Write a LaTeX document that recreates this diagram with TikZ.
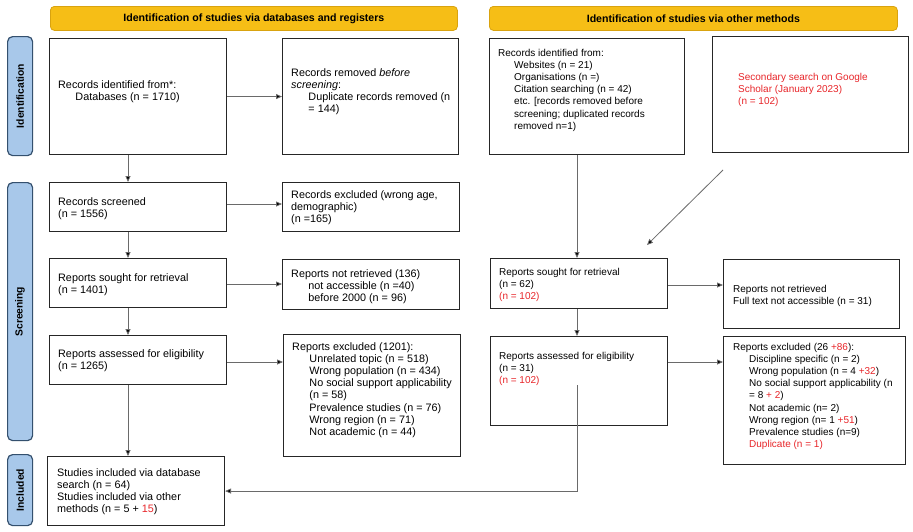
\documentclass[tikz,border=0pt]{standalone}
\usepackage{fontspec}
\setmainfont{Liberation Sans}
\usetikzlibrary{arrows.meta}
\definecolor{bannerfill}{HTML}{F6BE16}
\definecolor{bannerdraw}{HTML}{D9A30F}
\definecolor{barfill}{HTML}{A8C8EA}
\definecolor{bardraw}{HTML}{34506E}
\definecolor{redtxt}{HTML}{E8262A}
\definecolor{linegray}{HTML}{6A6A6A}
\tikzset{
  box/.style={draw=black!85, line width=1.1pt, anchor=north west, inner sep=0pt},
  banner/.style={draw=bannerdraw, fill=bannerfill, rounded corners=4pt, line width=0.8pt, anchor=north west, inner sep=0pt},
  bar/.style={draw=bardraw, fill=barfill, rounded corners=5pt, line width=1.2pt, anchor=north west, inner sep=0pt},
  barlabel/.style={rotate=90, font=\fontsize{10.3}{12}\selectfont\bfseries},
  ltxt/.style={anchor=base west, align=left, inner sep=0pt, font=\fontsize{10.8}{12.2}\selectfont},
  rtxt/.style={anchor=base west, align=left, inner sep=0pt, font=\fontsize{10}{12.2}\selectfont},
  arr/.style={draw=linegray, line width=0.8pt, -{Triangle[length=6pt,width=5pt,fill=black]}},
}
\newcommand{\rd}[1]{\textcolor{redtxt}{#1}}
\newcommand{\ind}{\hspace*{1.6em}}
\begin{document}
\begin{tikzpicture}[x=1pt,y=-1pt]
\useasboundingbox (0,0) rectangle (913,531);
\fill[white] (0,0) rectangle (913,531);

% banners
\node[banner, minimum width=407pt, minimum height=24pt] (b1) at (50,6) {};
\node (b1t) at (b1.center) {\fontsize{10.6}{12}\selectfont\bfseries Identification of studies via databases and registers};
\node[banner, minimum width=408pt, minimum height=24pt] (b2) at (489,6) {};
\node (b2t) at (b2.center) {\fontsize{10.6}{12}\selectfont\bfseries Identification of studies via other methods};

% side bars
\node[bar, minimum width=25pt, minimum height=119pt] (s1) at (7,36) {};
\node[barlabel] (s1t) at (s1.center) {Identification};
\node[bar, minimum width=25pt, minimum height=258pt] (s2) at (7,182) {};
\node[barlabel] (s2t) at (s2.center) {Screening};
\node[bar, minimum width=25pt, minimum height=71pt] (s3) at (7,454) {};
\node[barlabel] (s3t) at (s3.center) {Included};

% left column boxes (text anchored at baseline of last line)
\node[box, minimum width=177pt, minimum height=116pt] (id1) at (49,38) {};
\node[ltxt] (id1t) at (58,100.7) {Records identified from*:\\\ind Databases (n = 1710)};
\node[box, minimum width=176pt, minimum height=116pt] (rem) at (282,38) {};
\node[ltxt] (remt) at (291,112.6) {Records removed \emph{before}\\\emph{screening}:\\\ind Duplicate records removed (n\\\ind = 144)};

\node[box, minimum width=177pt, minimum height=49pt] (scr) at (49,182) {};
\node[ltxt] (scrt) at (58,217.2) {Records screened\\(n = 1556)};
\node[box, minimum width=177pt, minimum height=49pt] (exc) at (282,182) {};
\node[ltxt] (exct) at (291,222.4) {Records excluded (wrong age,\\demographic)\\(n =165)};

\node[box, minimum width=177pt, minimum height=49pt] (sgt) at (49,258) {};
\node[ltxt] (sgtt) at (58,293.2) {Reports sought for retrieval\\(n = 1401)};
\node[box, minimum width=177pt, minimum height=50pt] (nrt) at (282,259) {};
\node[ltxt] (nrtt) at (291,301.4) {Reports not retrieved (136)\\\ind not accessible (n =40)\\\ind before 2000 (n = 96)};

\node[box, minimum width=177pt, minimum height=49pt] (asd) at (49,335) {};
\node[ltxt] (asdt) at (58,369.2) {Reports assessed for eligibility\\(n = 1265)};
\node[box, minimum width=177pt, minimum height=122pt] (rex) at (283,334) {};
\node[ltxt] (rext) at (292,435.4) {Reports excluded (1201):\\\ind Unrelated topic (n = 518)\\\ind Wrong population (n = 434)\\\ind No social support applicability\\\ind (n = 58)\\\ind Prevalence studies (n = 76)\\\ind Wrong region (n = 71)\\\ind Not academic (n = 44)};

\node[box, minimum width=177pt, minimum height=69pt] (inc) at (47,456) {};
\node[ltxt] (inct) at (57,512.6) {Studies included via database\\search (n = 64)\\Studies included via other\\methods (n = 5 + \rd{15})};

% right column boxes
\node[box, minimum width=195pt, minimum height=116pt] (ido) at (489,38) {};
\node[rtxt] (idot) at (498,129.2) {Records identified from:\\\ind Websites (n = 21)\\\ind Organisations (n =)\\\ind Citation searching (n = 42)\\\ind etc. [records removed before\\\ind screening; duplicated records\\\ind removed n=1)};
\node[box, minimum width=196pt, minimum height=116pt] (sec) at (712,36) {};
\node[rtxt] (sect) at (738,104.4) {\rd{Secondary search on Google}\\\rd{Scholar (January 2023)}\\\rd{(n = 102)}};

\node[box, minimum width=177pt, minimum height=50pt] (sgo) at (490,258) {};
\node[rtxt] (sgot) at (499,299.4) {Reports sought for retrieval\\(n = 62)\\\rd{(n = 102)}};
\node[box, minimum width=176pt, minimum height=69pt] (nro) at (723,259) {};
\node[rtxt] (nrot) at (733,304.2) {Reports not retrieved\\Full text not accessible (n = 31)};

\node[box, minimum width=177pt, minimum height=89pt] (aso) at (490,336) {};
\node[rtxt] (asot) at (499,383.4) {Reports assessed for eligibility\\(n = 31)\\\rd{(n = 102)}};
\node[box, minimum width=182pt, minimum height=128pt] (exo) at (723,336) {};
\node[rtxt] (exot) at (733,447.6) {Reports excluded (26 \rd{+86}):\\\ind Discipline specific (n = 2)\\\ind Wrong population (n = 4 \rd{+32})\\\ind No social support applicability (n\\\ind = 8 \rd{+ 2})\\\ind Not academic (n= 2)\\\ind Wrong region (n= 1 \rd{+51})\\\ind Prevalence studies (n=9)\\\ind \rd{Duplicate (n = 1)}};

% helper coordinates
\coordinate (lx) at (128,0);
\coordinate (rx) at (577,0);
\coordinate (ya) at (0,362);
\coordinate (yb) at (0,285);
\coordinate (yc) at (0,284);
\coordinate (yd) at (0,204);
\coordinate (dgs) at (723,170);
\coordinate (dge) at (647,245);
\coordinate (ls) at (577,385);

% left connectors
\draw[arr] (id1.east) -- (rem.west |- id1.east);
\draw[arr] (id1.south -| lx) -- (scr.north -| lx);
\draw[arr] (scr.east |- yd) -- (exc.west |- yd);
\draw[arr] (scr.south -| lx) -- (sgt.north -| lx);
\draw[arr] (sgt.east |- yc) -- (nrt.west |- yc);
\draw[arr] (sgt.south -| lx) -- (asd.north -| lx);
\draw[arr] (asd.east |- ya) -- (rex.west |- ya);
\draw[arr] (asd.south -| lx) -- (inc.north -| lx);

% right connectors
\draw[arr] (ido.south -| rx) -- (sgo.north -| rx);
\draw[arr] (dgs) -- (dge);
\draw[arr] (sgo.east |- yb) -- (nro.west |- yb);
\draw[arr] (sgo.south -| rx) -- (aso.north -| rx);
\draw[arr] (aso.east |- ya) -- (exo.west |- ya);
\draw[arr] (ls) |- (inc.east);
\end{tikzpicture}
\end{document}
